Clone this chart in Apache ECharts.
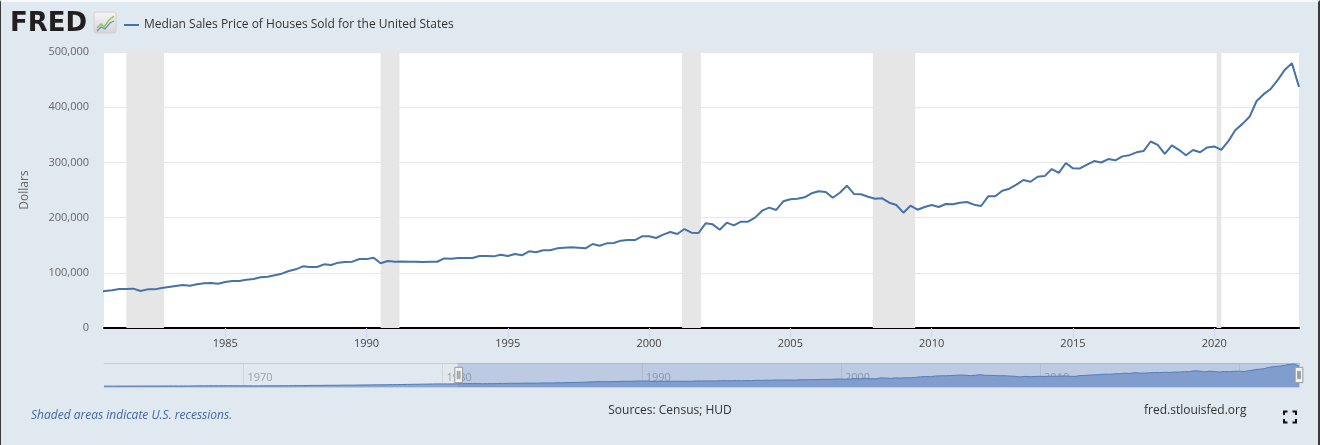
<!DOCTYPE html>
<html><head><meta charset="utf-8">
<script src="https://cdn.jsdelivr.net/npm/echarts@6/dist/echarts.min.js"></script>
<style>
html,body{margin:0;padding:0;background:#e1e9f0;overflow:hidden;}
#wrap{position:relative;width:1320px;height:445px;}
#chart{width:1320px;height:445px;}
#frame{position:absolute;left:0;top:0;width:1320px;height:445px;box-sizing:border-box;border-left:1px solid #3a3a3a;border-right:2px solid #3a3a3a;border-top:2px solid #f7f8fa;pointer-events:none;}
</style></head><body>
<div id="wrap"><div id="chart"></div><div id="frame"></div></div>
<script>
// Quarterly series, first observation = 1963 Q1
const firstQuarterYear = 1963;
const seriesName = 'Median Sales Price of Houses Sold for the United States';
const price1960s = [17800,18000,17900,18500, 18500,18900,18900,19400, 20200,19800,20200,20300,
  21000,22100,21500,21200, 21400,22300,23400,23500, 23900,25000,25100,25500, 25700,25900,25400,24400];
const price1970s = [23900,24400,23000,23400, 24300,25800,25300,25500, 26200,26800,27900,29000,
  30200,31700,33100,33500, 34500,35200,36100,36700, 38100,39000,38800,40500, 42400,43200,44000,45000,
  45600,47500,49200,50400, 51800,54200,55400,57200, 59500,60500,62700,64200];
const price1980s = [63700,64000,64900,67000, 68400,70700,70700,71300, 67000,70000,70000,72500,
  74300,76100,77900,76700, 79100,80900,81500,80300, 83300,85100,85100,87600, 88800,91800,93000,95400,
  98400,103300,106300,111700, 110500,110500,115300,114100, 118400,119600,120200,125000];
const price1990s = [124800,127400,117200,121400, 120100,120300,120100,120100, 119500,120000,120000,126000,
  125600,126800,126800,126800, 130400,130400,129800,132800, 130400,134000,131700,138900,
  137100,140700,140700,144300, 145500,146100,145500,144300, 152200,149100,153400,153900,
  158200,159400,159400,166100];
const price2000s = [166100,163000,169100,173900, 170300,179300,172700,172100, 189600,187800,178100,190800,
  186000,192600,192600,199900, 212500,218000,213800,229500, 233100,234300,236700,244000,
  247600,246400,236000,245100, 257800,242800,242200,237900, 234300,234900,227000,222800,
  208900,221600,214300,219200];
const price2010s = [222800,219200,224600,224300, 227000,228300,223400,221000, 238500,238700,248800,252400,
  259600,268100,265000,274000, 275200,288000,281000,298900, 289200,289100,295800,302500,
  299800,306000,303800,310900, 313100,318200,320500,337900, 331800,315600,330900,322800,
  313000,322500,318400,327100];
const price2020s = [329000,322600,338600,358700, 369800,382600,411200,423600, 433100,449300,468000,479500, 436800];

const recessions = [['1981-07-01','1982-11-01'],['1990-07-01','1991-03-01'],['2001-03-01','2001-11-01'],
  ['2007-12-01','2009-06-01'],['2020-02-01','2020-04-01']];
const viewStart = '1980-09-15';
const viewEnd = '2023-01-01';
const mainTickYears = [1985,1990,1995,2000,2005,2010,2015,2020];
const navTickYears = [1970,1980,1990,2000,2010,2020];
const navStartYear = 1963, navEndYear = 2023;

function toYear(s){ const p=s.split('-').map(Number); return p[0]+(p[1]-1)/12+(p[2]-1)/365; }
const prices = [].concat(price1960s, price1970s, price1980s, price1990s, price2000s, price2010s, price2020s);
const data = prices.map((v,i)=>[firstQuarterYear + i/4, v]);
const yearFmt = v => String(Math.round(v));
const FONT = 'Open Sans';

const chart = echarts.init(document.getElementById('chart'), null, {renderer:'canvas'});
chart.setOption({
  animation:false,
  backgroundColor:'#e1e9f0',
  textStyle:{fontFamily:FONT},
  legend:{left:119, top:14, icon:'rect', itemWidth:15, itemHeight:2, itemGap:10,
    data:[seriesName], textStyle:{fontSize:12, color:'#333', fontFamily:FONT}, selectedMode:false},
  grid:[
    {left:104, right:21, top:52, bottom:117, show:true, backgroundColor:'#ffffff', borderWidth:0},
    {left:104, right:21, top:363, height:24, show:false}
  ],
  xAxis:[
    {type:'value', gridIndex:0, min:navStartYear, max:navEndYear,
     axisLine:{show:true, onZero:false, lineStyle:{color:'#000', width:2}},
     axisTick:{show:true, length:10, lineStyle:{color:'#ccd6eb'}, customValues:mainTickYears},
     axisLabel:{customValues:mainTickYears, formatter:yearFmt, color:'#444', fontSize:11, margin:10, fontFamily:FONT},
     splitLine:{show:false}},
    {type:'value', gridIndex:1, min:navStartYear, max:navEndYear, position:'bottom',
     axisLine:{show:true, onZero:false, lineStyle:{color:'#cccccc', width:1}}, axisTick:{show:false, customValues:navTickYears},
     splitLine:{show:true, lineStyle:{color:'#d6d6d6'}},
     axisLabel:{customValues:navTickYears, formatter:yearFmt, inside:true, align:'left', verticalAlign:'middle',
       margin:9, padding:[0,0,0,4], color:'#a0a0a0', fontSize:11, fontFamily:FONT}},
    {type:'value', gridIndex:1, min:navStartYear, max:navEndYear, position:'top',
     axisLine:{show:true, onZero:false, lineStyle:{color:'#cccccc', width:1}},
     axisTick:{show:false}, axisLabel:{show:false}, splitLine:{show:false}}
  ],
  yAxis:[
    {type:'value', gridIndex:0, min:0, max:500000, interval:100000,
     axisLine:{show:false}, axisTick:{show:false},
     axisLabel:{color:'#666', fontSize:11, margin:15, fontFamily:FONT, formatter:v=>v.toLocaleString('en-US')},
     splitLine:{show:true, lineStyle:{color:'#e6e6e6'}},
     name:'Dollars', nameLocation:'middle', nameGap:73, nameTextStyle:{color:'#666', fontSize:12, fontFamily:FONT}},
    {type:'value', gridIndex:1, min:0, max:500000, show:false}
  ],
  dataZoom:[{
    type:'slider', xAxisIndex:0, filterMode:'none',
    startValue:toYear(viewStart), endValue:toYear(viewEnd),
    left:104, right:21, top:363, height:24,
    backgroundColor:'rgba(0,0,0,0)', borderColor:'rgba(0,0,0,0)', borderRadius:0,
    fillerColor:'rgba(102,133,194,0.3)',
    showDataShadow:false, showDetail:false, brushSelect:false, moveHandleSize:0,
    handleIcon:'path://M0,0H8V16H0Z M2.6,4H3.4V12H2.6Z M4.6,4H5.4V12H4.6Z',
    handleSize:'64%',
    handleStyle:{color:'#f4f4f4', borderColor:'#999999', borderWidth:1},
    emphasis:{handleStyle:{color:'#f4f4f4', borderColor:'#999999'}}
  }],
  series:[
    {name:seriesName, type:'line', xAxisIndex:0, yAxisIndex:0, data:data, symbol:'none', clip:true,
     lineStyle:{color:'#4572a7', width:2}, itemStyle:{color:'#4572a7'}, z:3,
     markArea:{silent:true, itemStyle:{color:'#e6e6e6'},
       data:recessions.map(r=>[{xAxis:toYear(r[0])},{xAxis:toYear(r[1])}])}},
    {name:'navigator', type:'line', xAxisIndex:1, yAxisIndex:1, data:data, symbol:'none',
     lineStyle:{color:'#4f79b6', width:1}, areaStyle:{color:'#8ba8d1', opacity:1}, silent:true}
  ],
  graphic:[
    {type:'text', style:{x:10, y:24, text:'FRED', font:'bold 26px "DejaVu Sans"', fill:'#231f20', verticalAlign:'middle'}},
    {type:'rect', shape:{x:94, y:12, width:22, height:21, r:2},
     style:{fill:new echarts.graphic.LinearGradient(0,0,0,1,[{offset:0,color:'#f6f6f6'},{offset:1,color:'#d5d5d5'}]), stroke:'#d0d0d0'}},
    {type:'polyline', shape:{points:[[97,28],[101,24],[104,27],[109,20],[114,16]]}, style:{stroke:'#8cc63e', lineWidth:1.3, fill:null}},
    {type:'polyline', shape:{points:[[97,31],[101,27],[105,29],[110,23],[114,21]]}, style:{stroke:'#6b8fc9', lineWidth:1.3, fill:null}},
    {type:'text', style:{x:31, y:416, text:'Shaded areas indicate U.S. recessions.', font:'italic 12px "Open Sans"', fill:'#3f67a6', verticalAlign:'middle'}},
    {type:'text', style:{x:670, y:411, text:'Sources: Census; HUD', font:'12px "Open Sans"', fill:'#333', align:'center', verticalAlign:'middle'}},
    {type:'text', style:{x:1144, y:411, text:'fred.stlouisfed.org', font:'12px "Open Sans"', fill:'#333', verticalAlign:'middle'}},
    {type:'polyline', shape:{points:[[1284,415],[1284,411.5],[1287.5,411.5]]}, style:{stroke:'#111', lineWidth:2, fill:null}},
    {type:'polyline', shape:{points:[[1292.5,411.5],[1296,411.5],[1296,415]]}, style:{stroke:'#111', lineWidth:2, fill:null}},
    {type:'polyline', shape:{points:[[1284,419],[1284,422.5],[1287.5,422.5]]}, style:{stroke:'#111', lineWidth:2, fill:null}},
    {type:'polyline', shape:{points:[[1292.5,422.5],[1296,422.5],[1296,419]]}, style:{stroke:'#111', lineWidth:2, fill:null}}
  ]
});
</script>
</body></html>
